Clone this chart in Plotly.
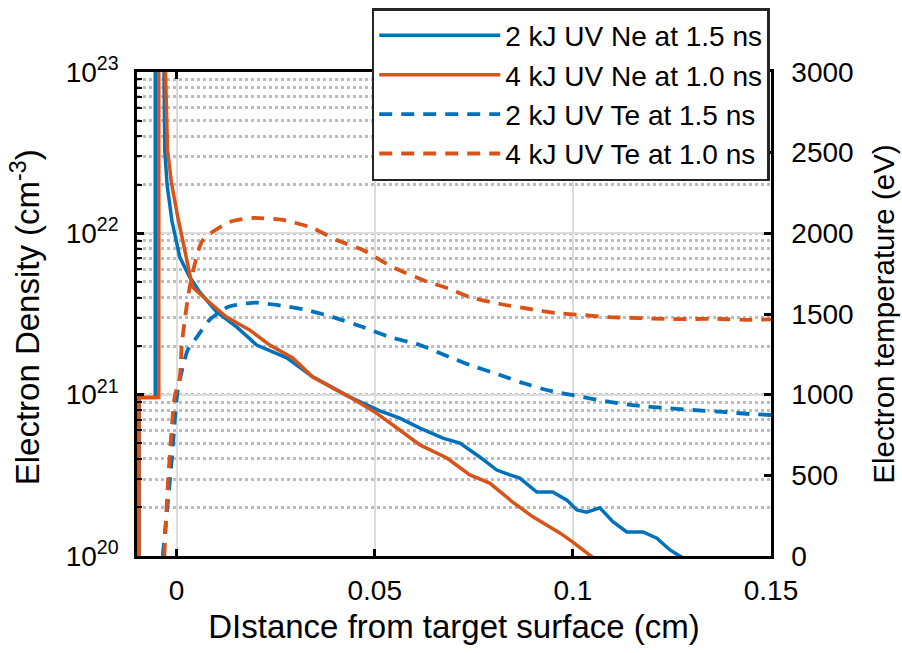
import plotly.graph_objects as go

BLUE = "#0072BD"
ORANGE = "#D95319"

# 2 kJ UV electron density at 1.5 ns
ne2_x = [-0.0095, -0.0095, -0.0054, -0.0054, -0.0033, -0.0032, -0.0030, -0.0024, -0.0012,
         0.0008, 0.0033, 0.0058, 0.0101, 0.0152, 0.0202, 0.0278, 0.0343, 0.0437, 0.0513,
         0.0563, 0.0614, 0.0672, 0.0715, 0.0765, 0.0808, 0.0841, 0.0866, 0.0909, 0.0949,
         0.0985, 0.1010, 0.1035, 0.1068, 0.1101, 0.1136, 0.1177, 0.1212, 0.1245, 0.1278, 0.1300]
ne2_y = [5e19, 9.6e20, 9.6e20, 2e23, 2e23, 1e23, 3.3e22, 2.0e22, 1.2e22,
         7.1e21, 5.36e21, 4.33e21, 3.25e21, 2.62e21, 2.03e21, 1.69e21, 1.29e21, 9.66e20, 7.94e20,
         7.16e20, 6.21e20, 5.38e20, 5.01e20, 4.11e20, 3.41e20, 3.18e20, 3.04e20, 2.49e20, 2.49e20,
         2.22e20, 1.93e20, 1.87e20, 1.99e20, 1.63e20, 1.41e20, 1.41e20, 1.29e20, 1.09e20, 9.8e19, 9.0e19]

# 4 kJ UV electron density at 1.0 ns
ne4_x = [-0.0095, -0.0095, -0.0045, -0.0045, -0.0029, -0.0028, -0.0023, -0.0013, 0.0003,
         0.0025, 0.0040, 0.0076, 0.0126, 0.0184, 0.0235, 0.0293, 0.0343, 0.0437, 0.0500,
         0.0563, 0.0614, 0.0682, 0.0740, 0.0790, 0.0848, 0.0899, 0.0967, 0.1000, 0.1050, 0.1060]
ne4_y = [5e19, 9.6e20, 9.6e20, 2e23, 2e23, 1e23, 3.29e22, 2.05e22, 1.26e22,
         6.84e21, 4.65e21, 3.86e21, 3.03e21, 2.52e21, 2.03e21, 1.69e21, 1.29e21, 9.66e20, 7.82e20,
         6.04e20, 4.88e20, 4.05e20, 3.18e20, 2.83e20, 2.16e20, 1.75e20, 1.39e20, 1.22e20, 9.8e19, 9.0e19]

# 2 kJ UV electron temperature (eV) at 1.5 ns
te2_x = [-0.0035, -0.0013, 0.0003, 0.0028, 0.0051, 0.0083, 0.0129, 0.0184, 0.0202, 0.0253,
         0.0328, 0.0394, 0.0470, 0.0538, 0.0614, 0.0689, 0.0740, 0.0816, 0.0874, 0.0944,
         0.1011, 0.1093, 0.1169, 0.1237, 0.1303, 0.1379, 0.1447, 0.1500]
te2_y = [0, 576, 1029, 1277, 1357, 1463, 1543, 1568, 1570, 1556,
         1525, 1481, 1419, 1357, 1308, 1233, 1184, 1122, 1072, 1023,
         992, 955, 930, 917, 905, 893, 880, 874]

# 4 kJ UV electron temperature (eV) at 1.0 ns
te4_x = [-0.0031, -0.0023, -0.0005, 0.0008, 0.0013, 0.0033, 0.0066, 0.0134, 0.0192, 0.0268,
         0.0343, 0.0404, 0.0470, 0.0545, 0.0621, 0.0689, 0.0740, 0.0816, 0.0891, 0.0957,
         0.1023, 0.1091, 0.1167, 0.1235, 0.1303, 0.1371, 0.1447, 0.1500]
te4_y = [0, 409, 985, 1110, 1308, 1667, 1958, 2070, 2095, 2083,
         2033, 1958, 1897, 1791, 1711, 1655, 1605, 1562, 1531, 1506,
         1494, 1481, 1475, 1469, 1469, 1469, 1463, 1467]

names = ["2 kJ UV Ne at 1.5 ns", "4 kJ UV Ne at 1.0 ns",
         "2 kJ UV Te at 1.5 ns", "4 kJ UV Te at 1.0 ns"]

x_tickvals = [0, 0.05, 0.1, 0.15]
x_ticktext = ["0", "0.05", "0.1", "0.15"]
y_tickvals = [1e20, 1e21, 1e22, 1e23]
y_ticktext = ["10<sup>20</sup>", "10<sup>21</sup>", "10<sup>22</sup>", "10<sup>23</sup>"]
y2_tickvals = [0, 500, 1000, 1500, 2000, 2500, 3000]

FONT = "Liberation Sans, Arial, Helvetica, sans-serif"
DASH = "13px,9px"
SOLID_W = 3.5
DASH_W = 3.8

fig = go.Figure()
fig.add_trace(go.Scatter(x=ne2_x, y=ne2_y, name=names[0], mode="lines",
                         line=dict(color=BLUE, width=SOLID_W), yaxis="y"))
fig.add_trace(go.Scatter(x=ne4_x, y=ne4_y, name=names[1], mode="lines",
                         line=dict(color=ORANGE, width=SOLID_W), yaxis="y"))
fig.add_trace(go.Scatter(x=te2_x, y=te2_y, name=names[2], mode="lines",
                         line=dict(color=BLUE, width=DASH_W, dash=DASH, shape="spline", smoothing=0.6),
                         yaxis="y2"))
fig.add_trace(go.Scatter(x=te4_x, y=te4_y, name=names[3], mode="lines",
                         line=dict(color=ORANGE, width=DASH_W, dash=DASH, shape="spline", smoothing=0.6),
                         yaxis="y2"))

fig.update_layout(
    width=902, height=653,
    margin=dict(l=137, r=131, t=72, b=97, autoexpand=False),
    paper_bgcolor="white", plot_bgcolor="white",
    font=dict(family=FONT, size=28, color="black"),
    showlegend=True,
    legend=dict(x=0.998, y=1.132, xanchor="right", yanchor="top",
                bgcolor="white", bordercolor="#262626", borderwidth=2.5,
                font=dict(size=28), itemwidth=121, tracegroupgap=0),
    xaxis=dict(
        range=[-0.01, 0.15], tickmode="array", tickvals=x_tickvals, ticktext=x_ticktext,
        showline=True, linecolor="black", linewidth=2.5, mirror="ticks",
        ticks="inside", ticklen=7, tickwidth=2.5, tickcolor="black",
        showgrid=True, gridcolor="#dcdcdc", gridwidth=2.2, zeroline=False,
        title=dict(text="DIstance from target surface (cm)", font=dict(size=33), standoff=10),
        ticklabelstandoff=8,
    ),
    yaxis=dict(
        type="log", range=[20, 23], tickmode="array", tickvals=y_tickvals, ticktext=y_ticktext,
        showline=True, linecolor="black", linewidth=2.5,
        ticks="inside", ticklen=7, tickwidth=2.5, tickcolor="black",
        showgrid=True, gridcolor="#dcdcdc", gridwidth=2.2, zeroline=False,
        minor=dict(ticks="inside", ticklen=5, tickwidth=2.2, tickcolor="black",
                   showgrid=True, gridcolor="#bcbcbc", griddash="3px,3px", gridwidth=2.5, dtick="D1"),
        ticklabelstandoff=10,
    ),
    yaxis2=dict(
        overlaying="y", side="right", range=[0, 3000], tickmode="array", tickvals=y2_tickvals,
        showline=True, linecolor="black", linewidth=2.5,
        ticks="inside", ticklen=7, tickwidth=2.5, tickcolor="black",
        showgrid=False, zeroline=False,
        title=dict(text="Electron temperature (eV)", font=dict(size=29.5), standoff=21),
        ticklabelstandoff=12,
    ),
    annotations=[dict(
        text="Electron Density (cm<sup>-3</sup>)", textangle=-90,
        xref="paper", yref="paper", x=-0.176, y=0.494,
        xanchor="center", yanchor="middle", showarrow=False,
        font=dict(size=33, family=FONT, color="black"),
    )],
)

fig.write_html("out.html")
